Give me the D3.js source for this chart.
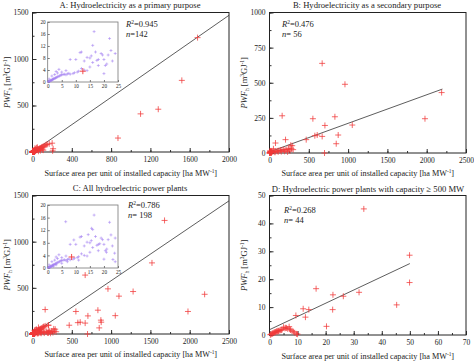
<!DOCTYPE html>
<html>
<head>
<meta charset="utf-8">
<script src="https://cdn.jsdelivr.net/npm/d3@7"></script>
<style>
  body { margin: 0; background: #fff; }
  text { font-family: "Liberation Serif", "Times New Roman", serif; fill: #222; }
</style>
</head>
<body>
<div id="chart"></div>
<script>
var W = 474, H = 361;
var FONT = "Liberation Serif";

// Panel A: hydroelectricity as a primary purpose (ha/MW, m3/GJ)
var aX = [1680, 1520, 1280, 1100, 870, 30, 35, 40, 45, 50, 55, 60, 65, 70, 75, 80, 85, 90, 95, 100, 110, 120, 130, 140, 150, 170, 200, 210, 205, 40, 25, 60, 80, 100, 110, 50, 30];
var aY = [1230, 770, 460, 410, 150, 12, 18, 20, 22, 28, 25, 32, 30, 38, 35, 42, 40, 48, 50, 55, 60, 65, 72, 78, 82, 88, 95, 35, 12, 45, 40, 8, 15, 25, 20, 50, 30];
var aLine = [[0, 0], [2000, 1470]];

// Inset points (0-25 ha/MW), shared by A and C
var insX = [0.2, 0.4, 0.6, 0.8, 1, 1.2, 1.4, 1.6, 1.8, 2, 2.2, 2.5, 2.8, 3, 3.3, 3.6, 4, 4.3, 4.7, 5, 5.5, 6, 6.5, 7, 7.5, 8, 9, 9.5, 10.5, 11, 3, 3.5, 2.5, 4, 5, 6.5, 1.5, 0.5,
            8, 10, 11.5, 12, 13, 14, 15, 15.5, 16, 16.5, 17, 17.5, 18, 19, 19.5, 20, 20.5, 21, 21.5, 22, 22.5, 23, 24, 20, 13, 14, 15, 12, 16, 18];
var insY = [0.1, 0.2, 0.3, 0.3, 0.5, 0.6, 0.5, 0.8, 0.9, 1, 1.1, 1.2, 1.3, 1.5, 1.6, 1.8, 1.9, 2.1, 2.3, 2.4, 2.5, 2.6, 2.4, 2.7, 2.9, 2.6, 2.8, 3.1, 3.3, 3.6, 3.5, 3, 2.5, 4.2, 3.3, 3.8, 2, 1,
            7.5, 7.5, 9.8, 10, 7, 8.2, 8, 8.7, 12.2, 16.8, 10, 7.2, 5.5, 9.5, 9, 7.5, 5.5, 6, 9, 14.5, 10.5, 7, 9.5, 2.8, 4, 3.8, 5, 4.5, 6.5, 7.5];
var insRedA = [12.5, 3.6];

// Panel B: hydroelectricity as a secondary purpose
var bX = [670, 960, 161, 552, 832, 705, 1053, 577, 607, 467, 670, 874, 849, 204, 76, 1978, 2190, 289, 301, 700,
          20, 40, 60, 80, 100, 120, 140, 160, 180, 200, 220, 250, 280, 270, 50, 30, 10, 70, 110, 150, 190, 230, 260, 240];
var bY = [638, 489, 265, 244, 258, 196, 199, 123, 128, 95, 118, 128, 66, 95, 71, 244, 430, 52, 24, 0,
          5, 8, 10, 12, 15, 18, 20, 22, 24, 20, 25, 28, 30, 55, 30, 15, 3, 5, 8, 10, 12, 8, 15, 30];
var bLine = [[0, 8], [2200, 455]];

// B plants below 25 ha/MW (seen in the C inset)
var bSmallX = [6.4, 9.3, 18.5, 20.9, 23.8, 23.2, 14.4, 15.6, 3, 5, 7, 2, 1, 11, 24];
var bSmallY = [14.7, 8.9, 7.7, 5, 4.7, 2.7, 10.6, 12.6, 1, 1.5, 2, 0.5, 0.3, 2.5, 2];
var insRedC = [8.5, 3.5];

// Panel C: all plants (A + B)
var cLine = [[0, 0], [2500, 1442]];

// Panel D: capacity >= 500 MW
var dX = [33.6, 49.9, 49.9, 45.3, 16.6, 22.6, 26.3, 31.9, 22.5, 12, 14, 9.4, 12.8, 20.3, 9.6,
          5, 7, 7.5, 8.5, 6, 3, 2, 1, 4, 0.5, 1.5, 2.5, 3.5, 4.5, 5.5, 6.5, 8, 0.8, 1.2, 2.2, 3.2, 0.3, 1.8, 2.8, 4.2, 5.8, 7.2, 9, 10];
var dY = [45.2, 28.6, 18.8, 10.8, 16.6, 14.4, 13.9, 15.3, 9.1, 9.4, 9.1, 7, 6.4, 3.1, 0.4,
          2.8, 3, 1.8, 1.2, 2.5, 1.5, 1, 0.5, 1.7, 0.2, 0.8, 1.3, 1.6, 2, 2.4, 2.2, 1.5, 0.4, 0.6, 1.1, 1.4, 0.1, 0.9, 1.2, 1.8, 2.6, 2.1, 0.8, 0.3];
var dLine = [[0, 1.9], [50, 25.6]];

var xLabel = ["Surface area per unit of installed capacity [ha MW", "-1", "]"];

var svg = d3.select("#chart").append("svg")
    .attr("width", W).attr("height", H)
    .attr("font-family", FONT);

var plus = "M-3,0H3M0,-3V3",
    plusSmall = "M-1.5,0H1.5M0,-1.5V1.5";

function zip(xs, ys) { return xs.map(function(x, i) { return [x, ys[i]]; }); }

function supText(sel, parts, size) {
  parts.forEach(function(p, i) {
    if (i % 2 === 0) sel.append("tspan").attr("font-size", size).attr("dy", i ? size * 0.35 : 0).text(p);
    else sel.append("tspan").attr("font-size", size * 0.65).attr("dy", -size * 0.35).text(p);
  });
}

function styleAxis(s, col, size) {
  s.select(".domain").remove();
  s.attr("font-family", FONT);
  s.selectAll("line").attr("stroke", col);
  s.selectAll("text").attr("font-size", size).attr("font-family", FONT).attr("fill", "#222");
}

function drawPanel(p) {
  var g = svg.append("g");
  var x = d3.scaleLinear().domain(p.xDom).range([p.l, p.r]);
  var y = d3.scaleLinear().domain(p.yDom).range([p.b, p.t]);

  var xMinor = d3.range(p.xDom[0], p.xDom[1] + 1e-9, p.xStep / 2);
  var yMinor = d3.range(p.yDom[0], p.yDom[1] + 1e-9, p.yStep / 2);
  g.append("g").attr("transform", "translate(0," + p.b + ")")
    .call(d3.axisBottom(x).tickValues(xMinor).tickSizeInner(-2).tickSizeOuter(0).tickFormat(""))
    .call(styleAxis, "#333", 7.5);
  g.append("g").attr("transform", "translate(" + p.l + ",0)")
    .call(d3.axisLeft(y).tickValues(yMinor).tickSizeInner(-2).tickSizeOuter(0).tickFormat(""))
    .call(styleAxis, "#333", 7.5);
  g.append("g").attr("transform", "translate(0," + p.b + ")")
    .call(d3.axisBottom(x).tickValues(d3.range(p.xDom[0], p.xDom[1] + 1e-9, p.xStep))
      .tickSizeInner(-4).tickSizeOuter(0).tickPadding(5).tickFormat(d3.format("d")))
    .call(styleAxis, "#333", 7.5);
  g.append("g").attr("transform", "translate(" + p.l + ",0)")
    .call(d3.axisLeft(y).tickValues(d3.range(p.yDom[0], p.yDom[1] + 1e-9, p.yStep))
      .tickSizeInner(-4).tickSizeOuter(0).tickPadding(4).tickFormat(d3.format("d")))
    .call(styleAxis, "#333", 7.5);

  g.append("rect")
    .attr("x", p.l).attr("y", p.t).attr("width", p.r - p.l).attr("height", p.b - p.t)
    .attr("fill", "none").attr("stroke", "#222").attr("stroke-width", 1);

  // fit line
  g.append("line")
    .attr("x1", x(p.line[0][0])).attr("y1", y(p.line[0][1]))
    .attr("x2", x(p.line[1][0])).attr("y2", y(p.line[1][1]))
    .attr("stroke", "#333").attr("stroke-width", 0.8);

  // points
  g.append("g").selectAll("path").data(p.pts).enter().append("path")
    .attr("transform", function(d) { return "translate(" + x(d[0]) + "," + y(d[1]) + ")"; })
    .attr("d", plus)
    .attr("stroke", "#f03a3a").attr("stroke-width", 0.9).attr("stroke-opacity", 0.85);

  // title
  g.append("text").attr("x", p.tx).attr("y", p.ty).attr("text-anchor", "middle")
    .attr("font-size", 8.6).text(p.title);

  // x label
  var xl = g.append("text").attr("x", (p.l + p.r) / 2).attr("y", p.xly).attr("text-anchor", "middle");
  supText(xl, xLabel, 8.2);

  // y label
  var yl = g.append("text").attr("text-anchor", "middle")
    .attr("transform", "translate(" + p.ylx + "," + ((p.t + p.b) / 2) + ") rotate(-90)");
  yl.append("tspan").attr("font-size", 8.5).attr("font-style", "italic").text("PWF");
  yl.append("tspan").attr("font-size", 5.5).attr("dy", 2).text("h");
  yl.append("tspan").attr("font-size", 8.5).attr("dy", -2).text(" [m");
  yl.append("tspan").attr("font-size", 5.5).attr("dy", -3).text("3");
  yl.append("tspan").attr("font-size", 8.5).attr("dy", 3).text("GJ");
  yl.append("tspan").attr("font-size", 5.5).attr("dy", -3).text("-1");
  yl.append("tspan").attr("font-size", 8.5).attr("dy", 3).text("]");

  // stats
  var r2 = g.append("text").attr("x", p.ax).attr("y", p.ay).attr("font-size", 8.5);
  r2.append("tspan").attr("font-style", "italic").text("R");
  r2.append("tspan").attr("font-size", 5.5).attr("dy", -3).text("2");
  r2.append("tspan").attr("dy", 3).text("=" + p.r2);
  var nn = g.append("text").attr("x", p.ax).attr("y", p.ay + 9.5).attr("font-size", 8.5);
  nn.append("tspan").attr("font-style", "italic").text("n");
  nn.append("tspan").text(p.n);

  if (p.inset) drawInset(g, p.inset);
}

function drawInset(g, q) {
  var x = d3.scaleLinear().domain([0, 25]).range([q.l, q.r]);
  var y = d3.scaleLinear().domain([0, 20]).range([q.b, q.t]);
  var ig = g.append("g");
  ig.append("rect").attr("x", q.l).attr("y", q.t).attr("width", q.r - q.l).attr("height", q.b - q.t)
    .attr("fill", "#fff").attr("stroke", "#777").attr("stroke-width", 0.8);
  ig.append("g").attr("transform", "translate(0," + q.b + ")")
    .call(d3.axisBottom(x).tickValues([0, 5, 10, 15, 20, 25]).tickSizeInner(-2).tickSizeOuter(0).tickPadding(2))
    .call(styleAxis, "#777", 5.2)
    .call(function(s) { s.selectAll("text").attr("fill", "#555"); });
  ig.append("g").attr("transform", "translate(" + q.l + ",0)")
    .call(d3.axisLeft(y).tickValues([0, 4, 8, 12, 16, 20]).tickSizeInner(-2).tickSizeOuter(0).tickPadding(2))
    .call(styleAxis, "#777", 5.2)
    .call(function(s) { s.selectAll("text").attr("fill", "#555"); });
  ig.append("g").selectAll("path").data(q.pts).enter().append("path")
    .attr("transform", function(d) { return "translate(" + x(d[0]) + "," + y(d[1]) + ")"; })
    .attr("d", plusSmall)
    .attr("stroke", "#a07cf2").attr("stroke-width", 0.8).attr("stroke-opacity", 0.65);
  ig.append("path")
    .attr("transform", "translate(" + x(q.red[0]) + "," + y(q.red[1]) + ")")
    .attr("d", plus).attr("stroke", "#f03a3a").attr("stroke-width", 0.9);
}

var insA = zip(insX, insY),
    insC = insA.concat(zip(bSmallX, bSmallY));
var ptsA = zip(aX, aY).concat(insA),
    ptsB = zip(bX, bY).concat(zip(bSmallX, bSmallY)),
    ptsC = ptsA.concat(ptsB),
    ptsD = zip(dX, dY);

drawPanel({
  l: 32.5, r: 229, t: 12.5, b: 152, xDom: [0, 2000], xStep: 400, yDom: [0, 1500], yStep: 500,
  pts: ptsA, line: aLine, title: "A: Hydroelectricity as a primary purpose", tx: 130, ty: 8,
  xly: 175.5, ylx: 10, ax: 126, ay: 27, r2: "0.945", n: "=142",
  inset: { l: 47.7, r: 118, t: 22, b: 82, pts: insA, red: insRedA }
});
drawPanel({
  l: 269.5, r: 466, t: 12.5, b: 153, xDom: [0, 2500], xStep: 500, yDom: [0, 1000], yStep: 250,
  pts: ptsB, line: bLine, title: "B:  Hydroelectricity as a secondary purpose", tx: 367, ty: 8,
  xly: 175.5, ylx: 247, ax: 282, ay: 27, r2: "0.476", n: "= 56"
});
drawPanel({
  l: 32.5, r: 229, t: 195.5, b: 334, xDom: [0, 2500], xStep: 500, yDom: [0, 1500], yStep: 500,
  pts: ptsC, line: cLine, title: "C: All hydroelectric power plants", tx: 130, ty: 191,
  xly: 357, ylx: 10, ax: 128, ay: 208, r2: "0.786", n: "= 198",
  inset: { l: 47.7, r: 118, t: 205, b: 268, pts: insC, red: insRedC }
});
drawPanel({
  l: 269.5, r: 466, t: 195.5, b: 335, xDom: [0, 70], xStep: 10, yDom: [0, 50], yStep: 10,
  pts: ptsD, line: dLine, title: "D: Hydroelectric power plants with capacity \u2265 500 MW", tx: 368, ty: 191.5,
  xly: 359, ylx: 247, ax: 284, ay: 213, r2: "0.268", n: "= 44"
});
</script>
</body>
</html>
